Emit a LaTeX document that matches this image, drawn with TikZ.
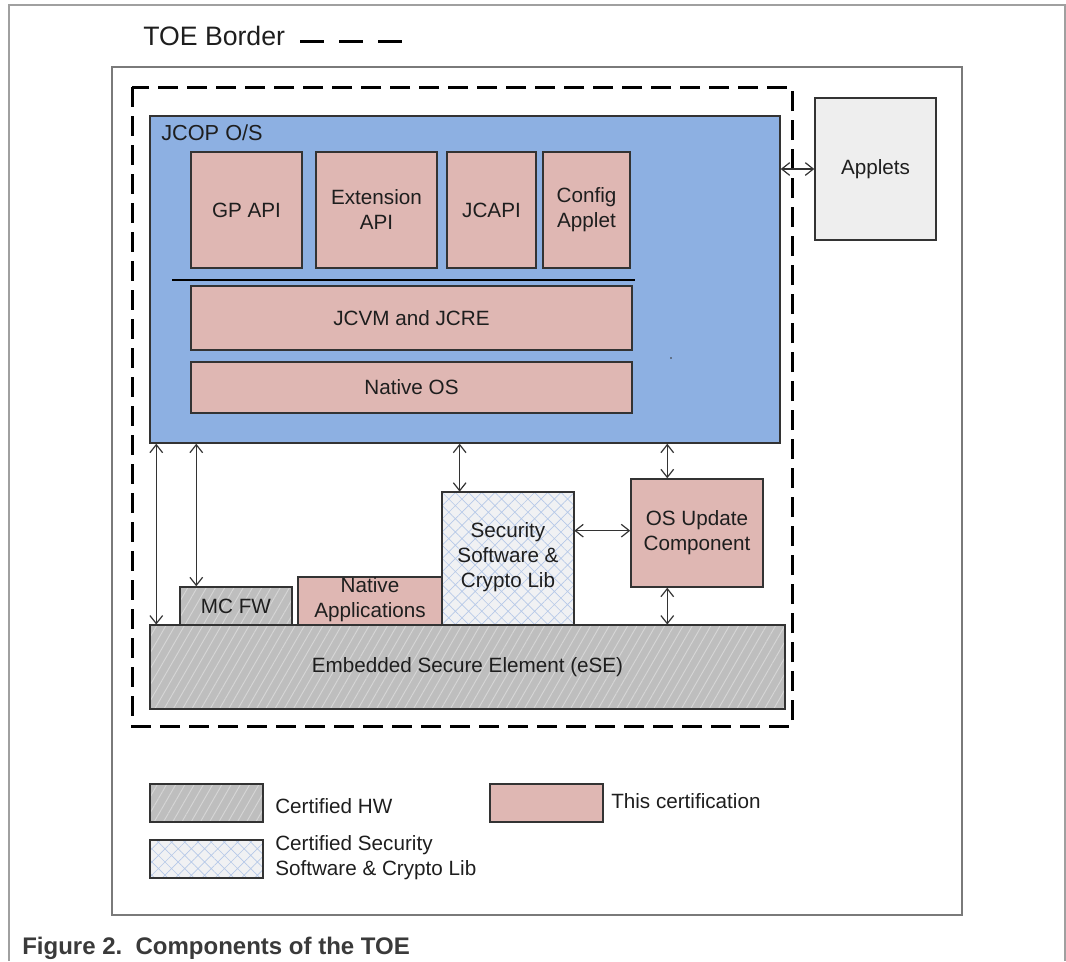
\documentclass[tikz,border=0pt]{standalone}
\usepackage{fontspec}
\setmainfont{Liberation Sans}
\usetikzlibrary{arrows.meta,patterns.meta,fit,calc}
\definecolor{jblue}{HTML}{8DB0E2}
\definecolor{certpink}{HTML}{DFB7B3}
\definecolor{hwgray}{HTML}{BEBEBE}
\definecolor{hwline}{HTML}{D6D6D6}
\definecolor{swbg}{HTML}{F0F1F3}
\definecolor{swline}{HTML}{B6C9E8}
\definecolor{appbg}{HTML}{EEEEEE}
\definecolor{boxline}{HTML}{333333}
\definecolor{txt}{HTML}{1E1E1E}
\definecolor{framegray}{HTML}{A0A0A0}
\definecolor{bordergray}{HTML}{7A7A7A}
\definecolor{capgray}{HTML}{3A3A3A}
\newcommand\tboxfont{\fontsize{15.5}{18.75}\selectfont}
\begin{document}
\begin{tikzpicture}[x=0.75pt,y=-0.75pt,
  box/.style={draw=boxline, line width=1.1pt, inner sep=0pt},
  pinkbox/.style={box, fill=certpink},
  hwbox/.style={box, preaction={fill=hwgray}, pattern={Lines[angle=60,distance=6pt,line width=0.7pt]}, pattern color=hwline},
  swbox/.style={box, preaction={fill=swbg}, pattern={Hatch[angle=45,distance=7pt,line width=0.5pt]}, pattern color=swline},
  tip/.tip={Straight Barb[length=6pt,width=9.5pt,line width=0.9pt]},
  dbl/.style={tip-tip, draw=boxline, line width=0.9pt},
  lab/.style={inner sep=0pt, text=txt, font=\tboxfont, align=center}
]
\useasboundingbox (0,0) rectangle (1066,961);

% page frame
\draw[framegray, line width=0.8pt] (9,961) -- (9,5) -- (1065,5) -- (1065,961);
% inner solid border
\draw[bordergray, line width=1.6pt] (112,67) rectangle (962,915);
% TOE dashed border
\draw[black, line width=2.25pt, dash pattern=on 15pt off 6.75pt] (132,87) rectangle (792,726);

% TOE Border legend
\node[anchor=west, inner sep=0pt, text=txt, font=\fontsize{20}{24}\selectfont] (toetxt) at (143,36) {TOE Border};
\draw[black, line width=2.25pt, dash pattern=on 18pt off 11.25pt] ($(toetxt.east)+(15,5)$) -- +(105,0);

% JCOP O/S
\node[box, fill=jblue, fit={(150,116) (780,443)}] (jcop) {};
\node[lab, anchor=west, font=\fontsize{16.3}{19}\selectfont] (jcoplab) at (161,133) {JCOP O/S};
\node[pinkbox, fit={(191,152) (302,268)}] (gp) {};
\node[lab] at (gp.center) {GP API};
\node[pinkbox, fit={(316,152) (437,268)}] (ext) {};
\node[lab] at (ext.center) {Extension\\API};
\node[pinkbox, fit={(447,152) (536,268)}] (jcapi) {};
\node[lab] at (jcapi.center) {JCAPI};
\node[pinkbox, fit={(543,152) (630,268)}] (cfg) {};
\node[lab] at (cfg.center) {Config\\Applet};
\draw[black, line width=1.1pt] (172,280) -- (635,280);
\node[pinkbox, fit={(191,286) (632,350)}] (jcvm) {};
\node[lab] at (jcvm.center) {JCVM and JCRE};
\node[pinkbox, fit={(191,362) (632,413)}] (native) {};
\node[lab] at (native.center) {Native OS};
\fill[boxline] (671,358) circle[radius=0.6pt];

% Applets
\node[box, fill=appbg, fit={(815,98) (936,240)}] (applets) {};
\node[lab] at (applets.center) {Applets};

% lower components
\node[hwbox, fit={(150,625) (785,709)}] (ese) {};
\node[lab] at (ese.center) {Embedded Secure Element (eSE)};
\node[hwbox, fit={(180,587) (292,625)}] (mcfw) {};
\node[lab] at (mcfw.center) {MC FW};
\node[pinkbox, fit={(298,577) (442,625)}] (napps) {};
\node[lab] at ($(napps.center)+(0,-1)$) {Native\\Applications};
\node[swbox, fit={(442,492) (574,625)}] (sec) {};
\node[lab] at ($(sec.center)+(0,-1)$) {Security\\Software \&\\Crypto Lib};
\node[pinkbox, fit={(631,479) (763,587)}] (osu) {};
\node[lab] at (osu.center) {OS Update\\Component};

% connectors
\draw[dbl] (jcop.east |- applets.west) -- (applets.west);
\draw[dbl] ($(jcop.south west)+(7,0)$) coordinate (p1) -- (p1 |- ese.north);
\draw[dbl] ($(jcop.south west)+(47,0)$) coordinate (p2) -- (p2 |- mcfw.north);
\draw[dbl] ($(sec.north west)+(18,0)$) coordinate (p3) -- (p3 |- jcop.south);
\draw[dbl] ($(osu.north west)+(37,0)$) coordinate (p4) -- (p4 |- jcop.south);
\draw[dbl] (p4 |- osu.south) -- (p4 |- ese.north);
\draw[dbl] ($(sec.north east)+(0,39)$) coordinate (p5) -- (p5 -| osu.west);

% legend
\node[hwbox, fit={(150,784) (263,822)}] (lhw) {};
\node[lab, anchor=west] (lhwt) at (275,806) {Certified HW};
\node[pinkbox, fit={(490,784) (603,822)}] (lpink) {};
\node[lab, anchor=west] (lpinkt) at (611,801) {This certification};
\node[swbox, fit={(150,840) (263,878)}] (lsw) {};
\node[lab, anchor=west, align=left] (lswt) at (275,858) {Certified Security\\Software \& Crypto Lib};

% caption
\node[anchor=west, inner sep=0pt, text=capgray, font=\bfseries\fontsize{18}{21}\selectfont] (cap) at (22,948) {Figure 2.\ \ Components of the TOE};
\end{tikzpicture}
\end{document}
